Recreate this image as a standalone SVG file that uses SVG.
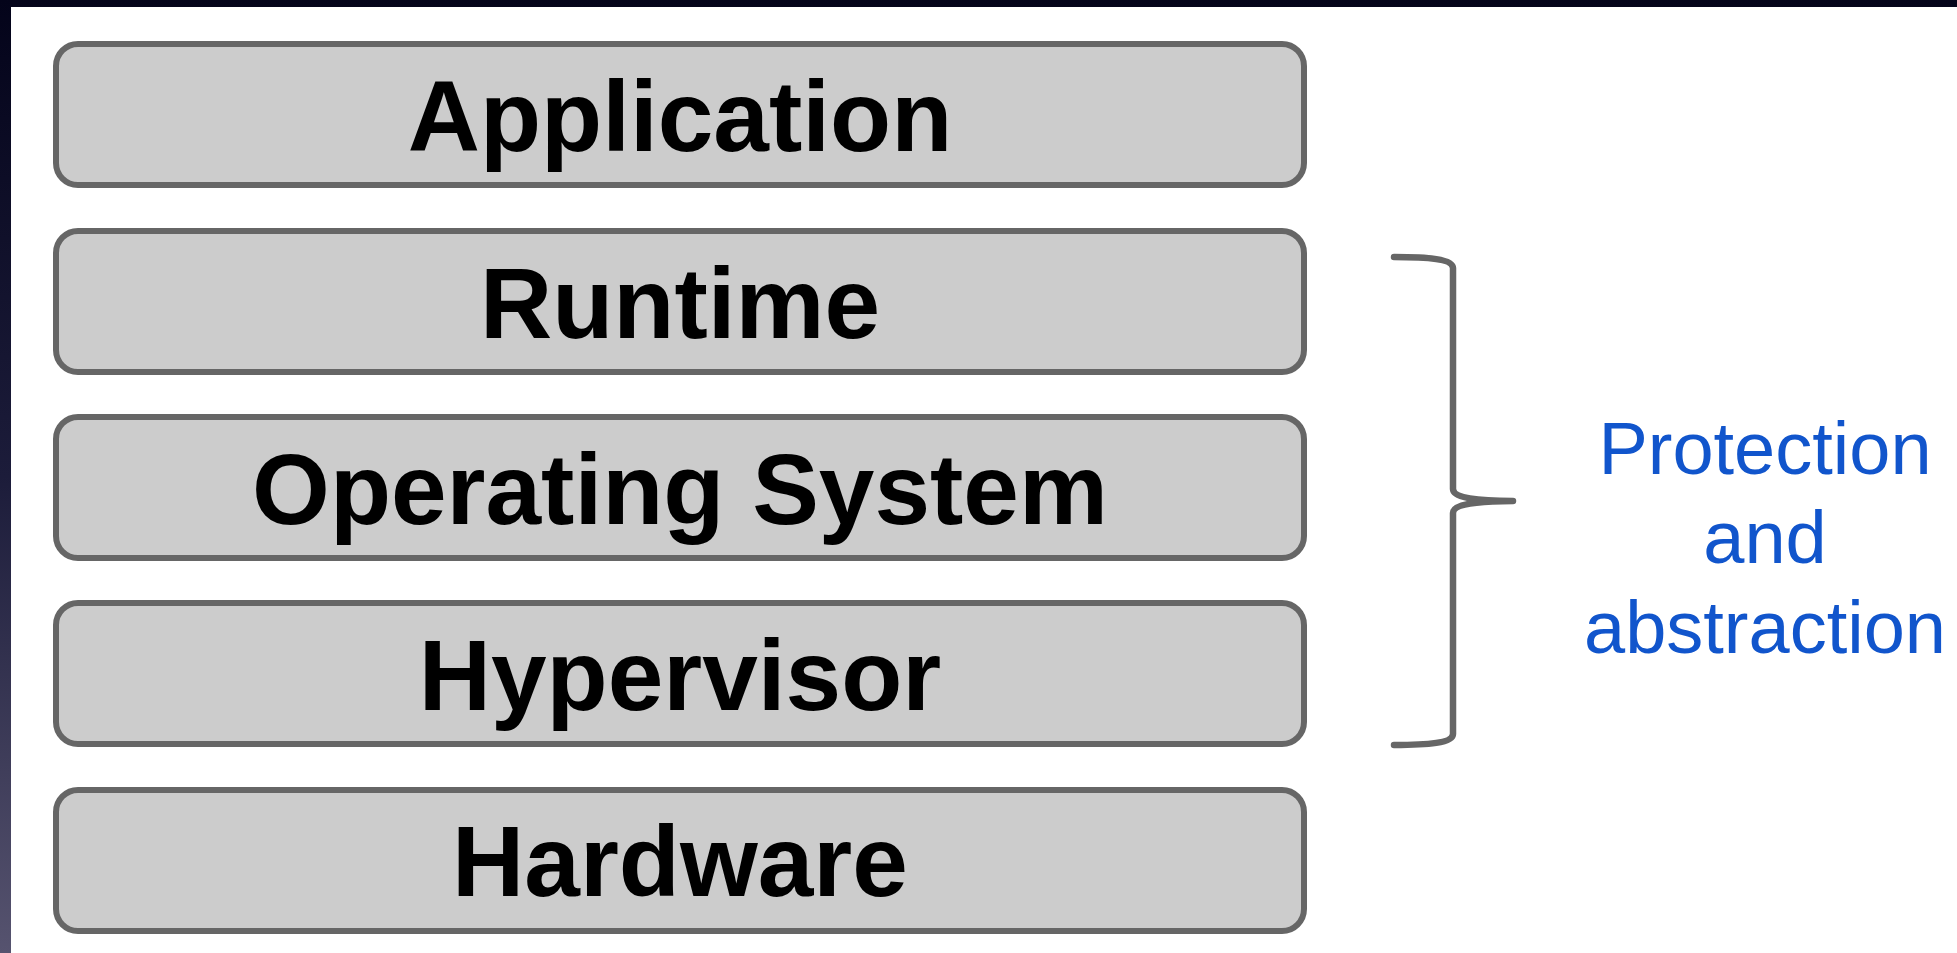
<svg xmlns="http://www.w3.org/2000/svg" width="1957" height="953" viewBox="0 0 1957 953">
  <defs>
    <linearGradient id="bg" x1="0" y1="0" x2="0" y2="1">
      <stop offset="0" stop-color="#04041a"/>
      <stop offset="0.5" stop-color="#1c1c3a"/>
      <stop offset="1" stop-color="#56536f"/>
    </linearGradient>
  </defs>
  <style>
    .layer rect { fill: #cccccc; stroke: #666666; stroke-width: 6; }
    .layer text { font-family: "Liberation Sans", Arial, sans-serif; font-weight: bold; font-size: 100px; fill: #000000; text-anchor: middle; }
    .brace { fill: none; stroke: #666666; stroke-width: 6.5; stroke-linecap: round; stroke-linejoin: round; }
    .label { font-family: "Liberation Sans", Arial, sans-serif; font-size: 74px; fill: #1155cc; text-anchor: middle; }
  </style>
  <rect x="0" y="0" width="1957" height="953" fill="url(#bg)"/>
  <rect x="11" y="7" width="1946" height="946" fill="#ffffff"/>

  <g id="application" class="layer">
    <rect x="56" y="44" width="1248" height="141" rx="22" ry="22"/>
    <text x="680" y="150.5">Application</text>
  </g>
  <g id="runtime" class="layer">
    <rect x="56" y="231" width="1248" height="141" rx="22" ry="22"/>
    <text x="680" y="337.5">Runtime</text>
  </g>
  <g id="operating-system" class="layer">
    <rect x="56" y="417" width="1248" height="141" rx="22" ry="22"/>
    <text x="680" y="523.5">Operating System</text>
  </g>
  <g id="hypervisor" class="layer">
    <rect x="56" y="603" width="1248" height="141" rx="22" ry="22"/>
    <text x="680" y="709.5">Hypervisor</text>
  </g>
  <g id="hardware" class="layer">
    <rect x="56" y="790" width="1248" height="141" rx="22" ry="22"/>
    <text x="680" y="896">Hardware</text>
  </g>

  <g id="connectors">
    <path class="brace" d="M1394,257 C1428,257 1453,259 1453,268 L1453,489 C1453,497 1472,500.5 1513,501 C1472,501.5 1453,505 1453,513 L1453,734 C1453,743 1428,745 1394,745"/>
  </g>

  <g id="protection-label">
    <text class="label" x="1765" y="473.5">Protection</text>
    <text class="label" x="1765" y="563">and</text>
    <text class="label" x="1765" y="652.5">abstraction</text>
  </g>
</svg>
